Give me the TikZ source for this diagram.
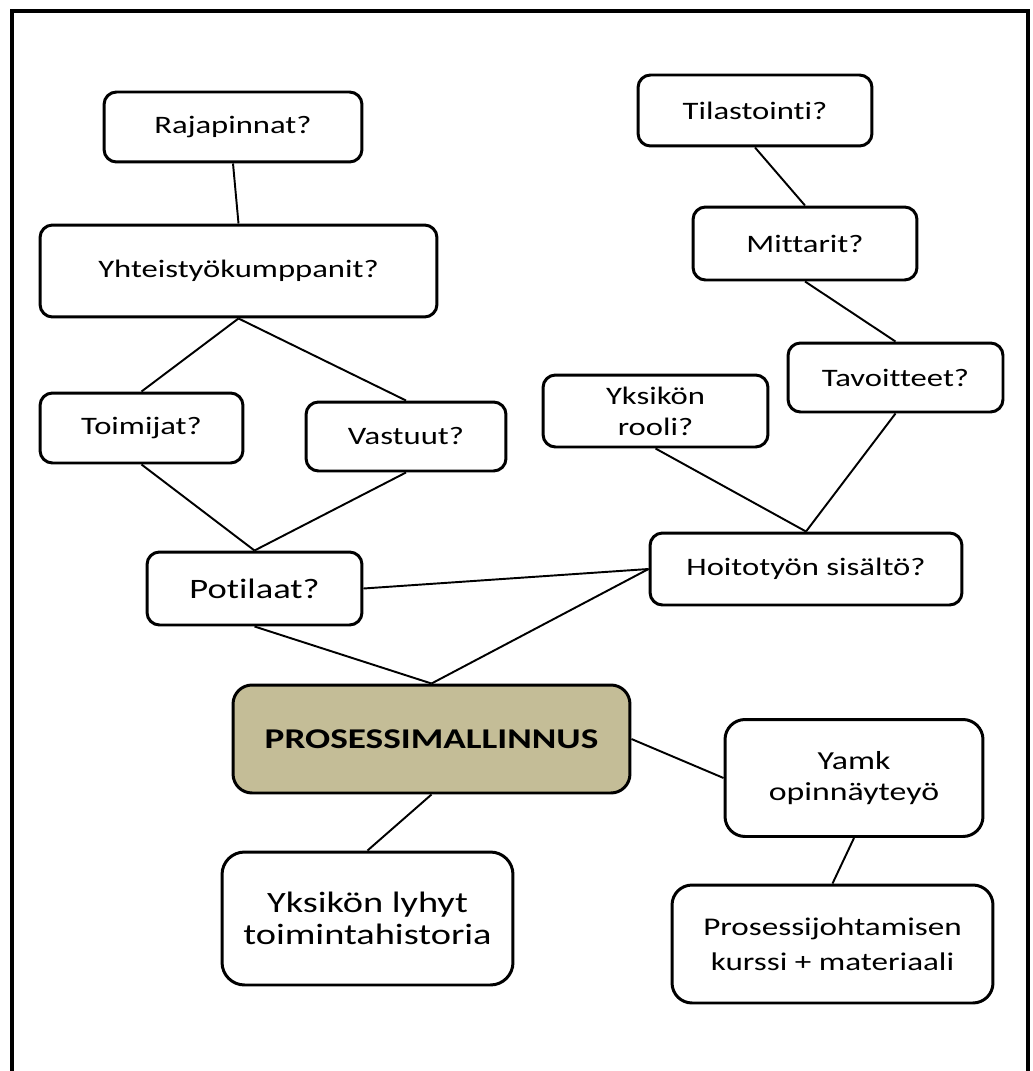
\documentclass[tikz,border=0pt]{standalone}
\usepackage{fontspec}
\setmainfont{Carlito}[FakeStretch=1.3,Ligatures={NoCommon}]
\usepackage{xcolor}
\usepackage{tikz}
\usetikzlibrary{positioning}

\definecolor{procfill}{HTML}{C4BD97}

\begin{document}
\begin{tikzpicture}[x=0.02cm,y=-0.02cm]
  \tikzstyle{block}=[draw,line width=1.7pt,rounded corners=0.25cm,align=center,fill=white,inner sep=2pt,font=\fontsize{14.3}{17.5}\selectfont]
  \tikzstyle{link}=[line width=1.1pt]
  \useasboundingbox (0,0) rectangle (1033,1071);
  \draw[line width=2.3pt] (12,1090) -- (12,11) -- (1028,11) -- (1028,1090);
  % left branch
  \node[block,minimum width=5.16cm,minimum height=1.4cm] (raja) at (233,127) {Rajapinnat?};
  \node[block,minimum width=7.94cm,minimum height=1.84cm] (yht) at (238.5,271) {Yhteisty\"okumppanit?};
  \node[block,minimum width=4.06cm,minimum height=1.4cm] (toim) at (141.5,428) {Toimijat?};
  \node[block,minimum width=4.0cm,minimum height=1.38cm] (vast) at (406,436.5) {Vastuut?};
  \node[block,minimum width=4.3cm,minimum height=1.46cm,font=\fontsize{16}{19}\selectfont] (pot) at (254.5,588.5) {Potilaat?};
  % right branch
  \node[block,minimum width=4.68cm,minimum height=1.42cm] (til) at (755,110.5) {Tilastointi?};
  \node[block,minimum width=4.48cm,minimum height=1.46cm] (mitt) at (805,243.5) {Mittarit?};
  \node[block,minimum width=4.3cm,minimum height=1.38cm] (tav) at (895.5,377.5) {Tavoitteet?};
  \node[block,minimum width=4.5cm,minimum height=1.44cm] (rool) at (655.5,411) {Yksik\"on\\rooli?};
  \node[block,minimum width=6.24cm,minimum height=1.44cm] (hoito) at (806,569) {Hoitoty\"on sis\"alt\"o?};
  % centre and bottom
  \node[block,fill=procfill,rounded corners=0.38cm,minimum width=7.94cm,minimum height=2.16cm,font=\fontsize{16.3}{19}\selectfont\bfseries] (proc) at (431.5,739) {PROSESSIMALLINNUS};
  \node[block,rounded corners=0.4cm,minimum width=5.16cm,minimum height=2.34cm,font=\fontsize{14.8}{18}\selectfont] (yamk) at (854,778) {Yamk\\opinn\"ayteyö};
  \node[block,rounded corners=0.4cm,minimum width=6.42cm,minimum height=2.36cm,font=\fontsize{14.5}{20}\selectfont] (kurssi) at (832.5,944) {Prosessijohtamisen\\kurssi + materiaali};
  \node[block,rounded corners=0.45cm,minimum width=5.82cm,minimum height=2.66cm,font=\fontsize{16.8}{18.5}\selectfont] (hist) at (367.5,918.5) {Yksik\"on lyhyt\\toimintahistoria};
  \foreach \a/\b in {raja.south/yht.north,yht.south/toim.north,yht.south/vast.north,toim.south/pot.north,vast.south/pot.north,til.south/mitt.north,mitt.south/tav.north,rool.south/hoito.north,tav.south/hoito.north,pot.east/hoito.west,pot.south/proc.north,hoito.west/proc.north,proc.east/yamk.west,yamk.south/kurssi.north,proc.south/hist.north}
    \draw[link] (\a) -- (\b);
\end{tikzpicture}
\end{document}
